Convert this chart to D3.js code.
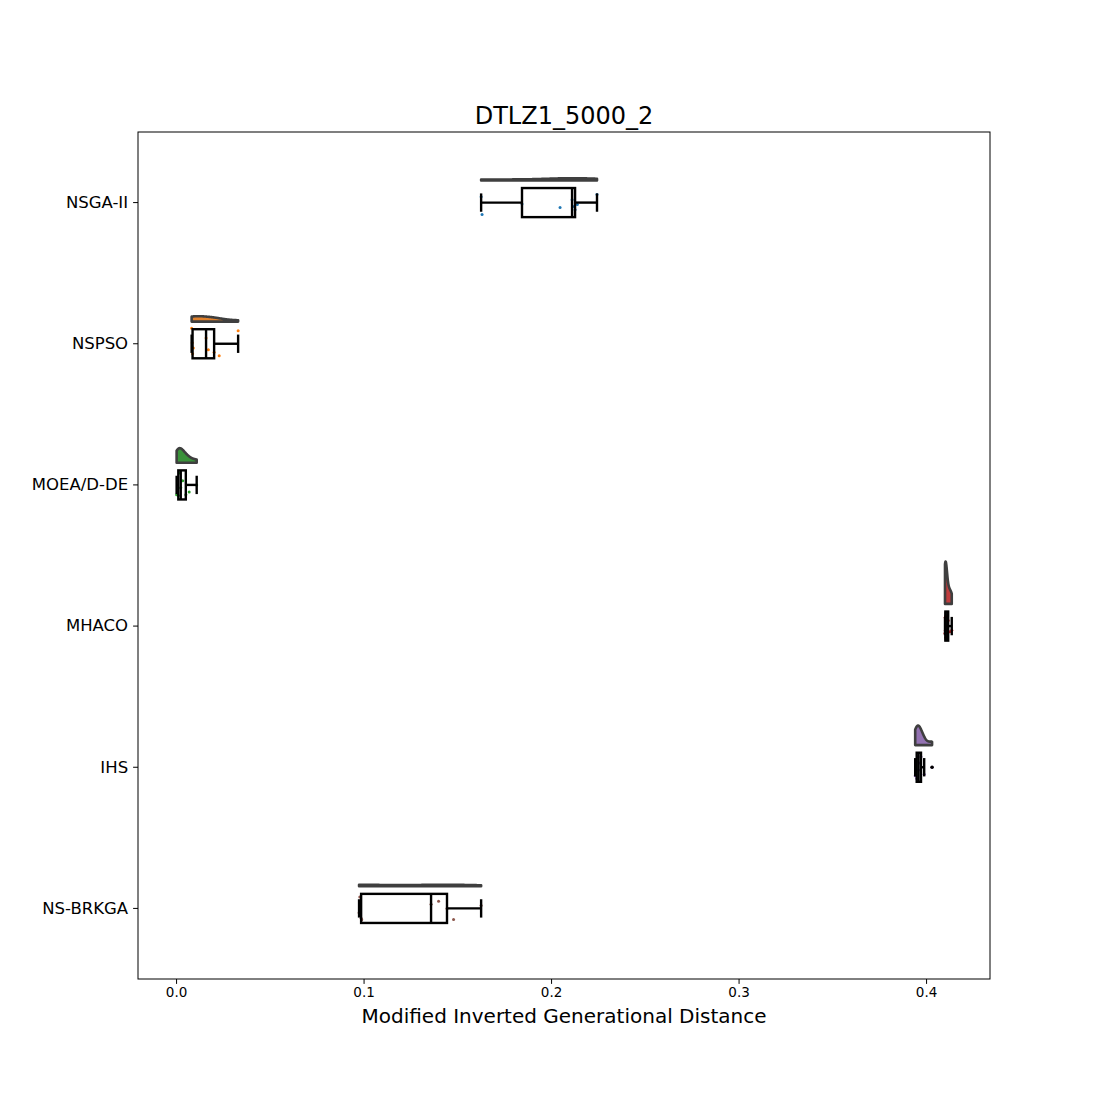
<!DOCTYPE html>
<html>
<head>
<meta charset="utf-8">
<script src="https://cdn.jsdelivr.net/npm/d3@7"></script>
<style>
  body { margin: 0; background: #fff; }
  text { font-family: "DejaVu Sans", sans-serif; }
</style>
</head>
<body>
<svg id="chart" width="1100" height="1100"></svg>
<script>
// algorithms, top to bottom
const algorithms = ['NSGA-II', 'NSPSO', 'MOEA/D-DE', 'MHACO', 'IHS', 'NS-BRKGA'];

// final MIGD values of each run
const nsga2Runs  = [0.1627, 0.1632, 0.1845, 0.2048, 0.2112, 0.2123, 0.2128, 0.2140, 0.2245];
const nspsoRuns  = [0.0083, 0.0086, 0.0088, 0.0092, 0.0160, 0.0172, 0.0203, 0.0230, 0.0331];
const moeadRuns  = [0.0003, 0.0008, 0.0012, 0.0018, 0.0025, 0.0035, 0.0052, 0.0070, 0.0110];
const mhacoRuns  = [0.4101, 0.4102, 0.4103, 0.4104, 0.4105, 0.4106, 0.4118, 0.4126, 0.4137];
const ihsRuns    = [0.3942, 0.3947, 0.3950, 0.3955, 0.3960, 0.3967, 0.3973, 0.3990, 0.4032];
const brkgaRuns  = [0.0976, 0.0980, 0.0987, 0.0990, 0.1360, 0.1400, 0.1445, 0.1480, 0.1627];

// vertical jitter of the rain drops (fraction of a row)
const nsga2Jitter = [-0.042, 0.085, 0.01, 0.035, -0.02, 0.028, 0.05, 0.014, -0.057];
const nspsoJitter = [-0.11, -0.007, 0.07, 0.03, -0.04, 0.042, 0.06, 0.085, -0.092];
const moeadJitter = [0.07, -0.05, 0.075, -0.085, 0.02, -0.03, 0.07, 0.05, 0.0];
const mhacoJitter = [0.05, -0.06, 0.03, -0.07, 0.08, 0.0, -0.04, 0.04, 0.03];
const ihsJitter   = [0.06, -0.04, 0.08, -0.07, 0.02, -0.03, -0.075, 0.05, 0.0];
const brkgaJitter = [0.03, -0.08, 0.07, 0.08, -0.03, -0.05, 0.0, 0.078, -0.02];

const runs = [nsga2Runs, nspsoRuns, moeadRuns, mhacoRuns, ihsRuns, brkgaRuns];
const jitters = [nsga2Jitter, nspsoJitter, moeadJitter, mhacoJitter, ihsJitter, brkgaJitter];

const dotColors = ['#1f77b4', '#ff7f0e', '#2ca02c', '#d62728', '#9467bd', '#8c564b'];
const violinColors = ['#3274a1', '#e1812c', '#3a923a', '#c03d3e', '#9372b2', '#845b53'];

const xTicks = [0.0, 0.1, 0.2, 0.3, 0.4];

const plotLeft = 138, plotRight = 990, plotTop = 132, plotBottom = 979;

const svg = d3.select('#chart');

const x = d3.scaleLinear().domain([-0.0203, 0.4341]).range([plotLeft, plotRight]);
const y = d3.scaleBand().domain(algorithms).range([plotTop, plotBottom]).padding(0);
const bw = y.bandwidth();

const violinOffset = 0.157;
const violinMax = 0.30;
const boxHalf = 0.103;
const capHalf = 0.065;

// kernel density (gaussian, scott bandwidth), cut at the data range
function kde(values) {
  const n = values.length;
  const sd = d3.deviation(values);
  const h = sd * Math.pow(n, -0.2);
  const lo = d3.min(values), hi = d3.max(values);
  const pts = [];
  for (let i = 0; i < 100; i++) {
    const t = lo + (hi - lo) * i / 99;
    let s = 0;
    values.forEach(v => { const z = (t - v) / h; s += Math.exp(-0.5 * z * z); });
    pts.push([t, s / (n * h * Math.sqrt(2 * Math.PI))]);
  }
  return pts;
}

const densities = runs.map(kde);
const globalMax = d3.max(densities, d => d3.max(d, p => p[1]));

const plot = svg.append('g');

// clouds
densities.forEach((dens, i) => {
  const cy = y(algorithms[i]) + bw / 2;
  const base = cy - violinOffset * bw;
  const area = d3.area()
    .x(d => x(d[0]))
    .y0(base)
    .y1(d => base - d[1] / globalMax * violinMax * bw);
  plot.append('path')
    .datum(dens)
    .attr('d', area)
    .attr('fill', violinColors[i])
    .attr('stroke', '#3f3f3f')
    .attr('stroke-width', 2.6)
    .attr('stroke-linejoin', 'round');
});

// rain
runs.forEach((vals, i) => {
  const cy = y(algorithms[i]) + bw / 2;
  plot.append('g').selectAll('circle')
    .data(vals.map((v, k) => ({v, j: jitters[i][k]})))
    .join('circle')
    .attr('cx', d => x(d.v))
    .attr('cy', d => cy + d.j * bw)
    .attr('r', 1.5)
    .attr('fill', dotColors[i]);
});

// boxes
runs.forEach((vals, i) => {
  const cy = y(algorithms[i]) + bw / 2;
  const s = vals.slice().sort(d3.ascending);
  const q1 = d3.quantile(s, 0.25), med = d3.quantile(s, 0.5), q3 = d3.quantile(s, 0.75);
  const iqr = q3 - q1;
  const wLo = d3.min(s.filter(v => v >= q1 - 1.5 * iqr));
  const wHi = d3.max(s.filter(v => v <= q3 + 1.5 * iqr));
  const fliers = s.filter(v => v < wLo || v > wHi);
  const g = plot.append('g').attr('stroke', '#000').attr('stroke-width', 2.4).attr('fill', 'none');
  g.append('rect')
    .attr('x', x(q1)).attr('y', cy - boxHalf * bw)
    .attr('width', x(q3) - x(q1)).attr('height', 2 * boxHalf * bw);
  g.append('line').attr('x1', x(med)).attr('x2', x(med))
    .attr('y1', cy - boxHalf * bw).attr('y2', cy + boxHalf * bw);
  [[wLo, q1], [q3, wHi]].forEach(([a, b]) => {
    g.append('line').attr('x1', x(a)).attr('x2', x(b)).attr('y1', cy).attr('y2', cy);
  });
  [wLo, wHi].forEach(w => {
    g.append('line').attr('x1', x(w)).attr('x2', x(w))
      .attr('y1', cy - capHalf * bw).attr('y2', cy + capHalf * bw);
  });
  plot.append('g').selectAll('circle')
    .data(fliers)
    .join('circle')
    .attr('cx', d => x(d)).attr('cy', cy).attr('r', 1.8).attr('fill', '#000');
});

// frame
svg.append('rect')
  .attr('x', plotLeft).attr('y', plotTop)
  .attr('width', plotRight - plotLeft).attr('height', plotBottom - plotTop)
  .attr('fill', 'none').attr('stroke', '#000').attr('stroke-width', 1);

// axes
const xAxis = svg.append('g')
  .attr('transform', `translate(0,${plotBottom})`)
  .call(d3.axisBottom(x).tickValues(xTicks).tickFormat(d3.format('.1f')).tickSize(4.9).tickPadding(4));
xAxis.select('.domain').remove();
xAxis.selectAll('text').attr('font-size', 13.5).attr('fill', '#000');

const yAxis = svg.append('g')
  .attr('transform', `translate(${plotLeft},0)`)
  .call(d3.axisLeft(y).tickSize(4.9).tickPadding(5));
yAxis.select('.domain').remove();
yAxis.selectAll('text').attr('font-size', 16.5).attr('fill', '#000');

svg.append('text')
  .attr('x', (plotLeft + plotRight) / 2).attr('y', 124)
  .attr('text-anchor', 'middle').attr('font-size', 24)
  .text('DTLZ1_5000_2');

svg.append('text')
  .attr('x', (plotLeft + plotRight) / 2).attr('y', 1023)
  .attr('text-anchor', 'middle').attr('font-size', 20)
  .text('Modified Inverted Generational Distance');
</script>
</body>
</html>
